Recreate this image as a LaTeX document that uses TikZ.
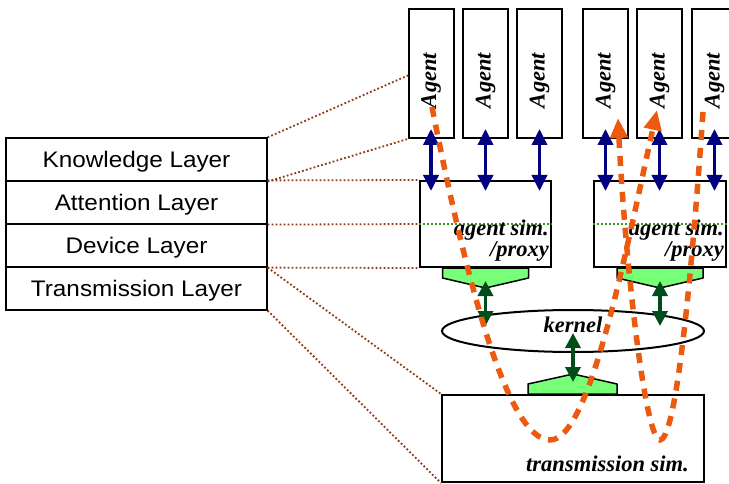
\documentclass[tikz,border=0pt]{standalone}
\usepackage{fontspec}
\newfontfamily\laysf{Liberation Sans}[FakeStretch=1.08]
\newfontfamily\labserif{Liberation Serif}
\usetikzlibrary{arrows.meta,calc,shapes.geometric}

\definecolor{navyblue}{RGB}{0,0,128}
\definecolor{darkgrn}{RGB}{0,77,26}
\definecolor{lightgrn}{RGB}{119,255,119}
\definecolor{brownish}{RGB}{140,60,20}
\definecolor{dotgrn}{RGB}{60,150,30}
\definecolor{tangerine}{RGB}{235,90,15}

\tikzset{
  layerbox/.style={draw, line width=1.2pt, minimum width=261pt, minimum height=43pt,
    inner sep=0pt, text depth=0pt, font=\laysf\fontsize{22.5}{24}\selectfont},
  agentbox/.style={draw, line width=2pt, fill=white, minimum width=45pt, minimum height=129pt, inner sep=0pt},
  simbox/.style={draw, line width=2pt, fill=white, inner sep=0pt},
  bxit/.style={font=\labserif\bfseries\itshape\fontsize{22.5}{24}\selectfont, inner sep=0pt},
  agenttext/.style={font=\labserif\bfseries\itshape\fontsize{22.5}{24}\selectfont, rotate=90, inner sep=0pt},
  linkdots/.style={brownish, line width=1.8pt, dash pattern=on 1.8pt off 2.2pt},
  splitdots/.style={dotgrn, line width=1.6pt, dash pattern=on 1.8pt off 2.2pt},
  bluearrow/.style={navyblue, line width=3.5pt, {Triangle[width=15pt,length=16pt]}-{Triangle[width=15pt,length=16pt]}},
  grnarrow/.style={darkgrn, line width=3.5pt, {Triangle[width=15pt,length=15pt]}-{Triangle[width=15pt,length=15pt]}},
  coupler/.style={draw, line width=1.5pt, fill=lightgrn, line join=round},
  route/.style={tangerine, line width=5.5pt, dash pattern=on 10pt off 8pt, -{Triangle[width=17pt,length=20pt]}},
}

\begin{document}
\begin{tikzpicture}[x=1pt, y=-1pt]
\clip (0,0) rectangle (729,484);
\fill[white] (0,0) rectangle (729,484);

% layer table
\node[layerbox] (know) at (136.5,159.5) {Knowledge Layer};
\node[layerbox] (att)  at (136.5,202.5) {Attention Layer};
\node[layerbox] (dev)  at (136.5,245.5) {Device Layer};
\node[layerbox] (trl)  at (136.5,288.5) {Transmission Layer};

% agent boxes
\node[agentbox] (a1) at (431,73.5) {};
\node[agentbox] (a2) at (485.5,73.5) {};
\node[agentbox] (a3) at (539.5,73.5) {};
\node[agentbox] (a4) at (605.5,73.5) {};
\node[agentbox] (a5) at (659.5,73.5) {};
\node[agentbox] (a6) at (714.5,73.5) {};
\foreach \n in {a1,a2,a3,a4,a5,a6}
  \node[agenttext] at ([yshift=-7pt]\n.center) {Agent};

% agent simulator / proxy boxes
\node[simbox, minimum width=131pt, minimum height=86pt] (s1) at (485.5,224) {};
\node[simbox, minimum width=132pt, minimum height=86pt] (s2) at (660,224) {};
\draw[splitdots] (s1.west) -- (s1.east);
\draw[splitdots] (s2.west) -- (s2.east);
\foreach \s in {s1,s2} {
  \node[bxit, anchor=base east] at ($(\s.east)+(-3,12)$) {agent sim.};
  \node[bxit, anchor=base east] at ($(\s.east)+(-3,33)$) {/proxy};
}

% dotted links from layers to components
\coordinate (t1) at (409,75);
\draw[linkdots] (know.north east) -- (t1);
\draw[linkdots] (know.south east) -- (a1.south west);
\draw[linkdots] (att.north east) -- (s1.north west);
\draw[linkdots] (att.south east) -- (s1.west);
\draw[linkdots] (dev.south east) -- (s1.south west);

% kernel and transmission simulator
\node[draw, ellipse, line width=2pt, minimum width=262pt, minimum height=42pt, inner sep=0pt] (ker) at (573,331) {};
\node[bxit] at ($(ker.center)+(0,-6)$) {kernel};
\node[simbox, minimum width=262pt, minimum height=87pt] (tsim) at (573,438.5) {};
\node[bxit, anchor=base east] at ($(tsim.south east)+(-16,-12)$) {transmission sim.};

\draw[linkdots] (dev.south east) -- (tsim.north west);
\draw[linkdots] (trl.south east) -- (tsim.south west);

% couplers
\foreach \s in {s1,s2}
  \draw[coupler] ($(\s.south)+(-43,0)$) -- ($(\s.south)+(43,0)$) -- ($(\s.south)+(43,10)$)
    -- ($(\s.south)+(0,20)$) -- ($(\s.south)+(-43,10)$) -- cycle;
\draw[coupler] ($(tsim.north)+(-45,0)$) -- ($(tsim.north)+(-45,-10)$) -- ($(tsim.north)+(0,-20)$)
  -- ($(tsim.north)+(44,-10)$) -- ($(tsim.north)+(44,0)$) -- cycle;

% agent <-> simulator links
\foreach \a/\s in {a1/s1,a2/s1,a3/s1,a4/s2,a5/s2,a6/s2}
  \draw[bluearrow] ([yshift=10pt]\a.south) -- ([yshift=-11pt]\a.south |- \s.north);

% simulator <-> kernel <-> transmission links
\draw[grnarrow] ($(s1.south)+(0,13)$) -- ($(ker.north -| s1.south)+(0,17)$);
\draw[grnarrow] ($(s2.south)+(0,13)$) -- ($(ker.north -| s2.south)+(0,17)$);
\draw[grnarrow] ($(ker.center)+(0,2)$) -- ($(tsim.north)+(0,-12)$);

% message routes
\coordinate (r1s) at (432,107);
\coordinate (r1b) at (550,440);
\coordinate (r1e) at (657,110);
\coordinate (r2s) at (703,112);
\coordinate (r2b) at (660,440);
\coordinate (r2e) at (618,118);
\draw[route] (r1s) .. controls (470,300) and (510,440) .. (r1b)
  .. controls (590,440) and (625,255) .. (r1e);
\draw[route] (r2s) .. controls (690,300) and (675,440) .. (r2b)
  .. controls (645,440) and (625,260) .. (r2e);
\end{tikzpicture}
\end{document}
